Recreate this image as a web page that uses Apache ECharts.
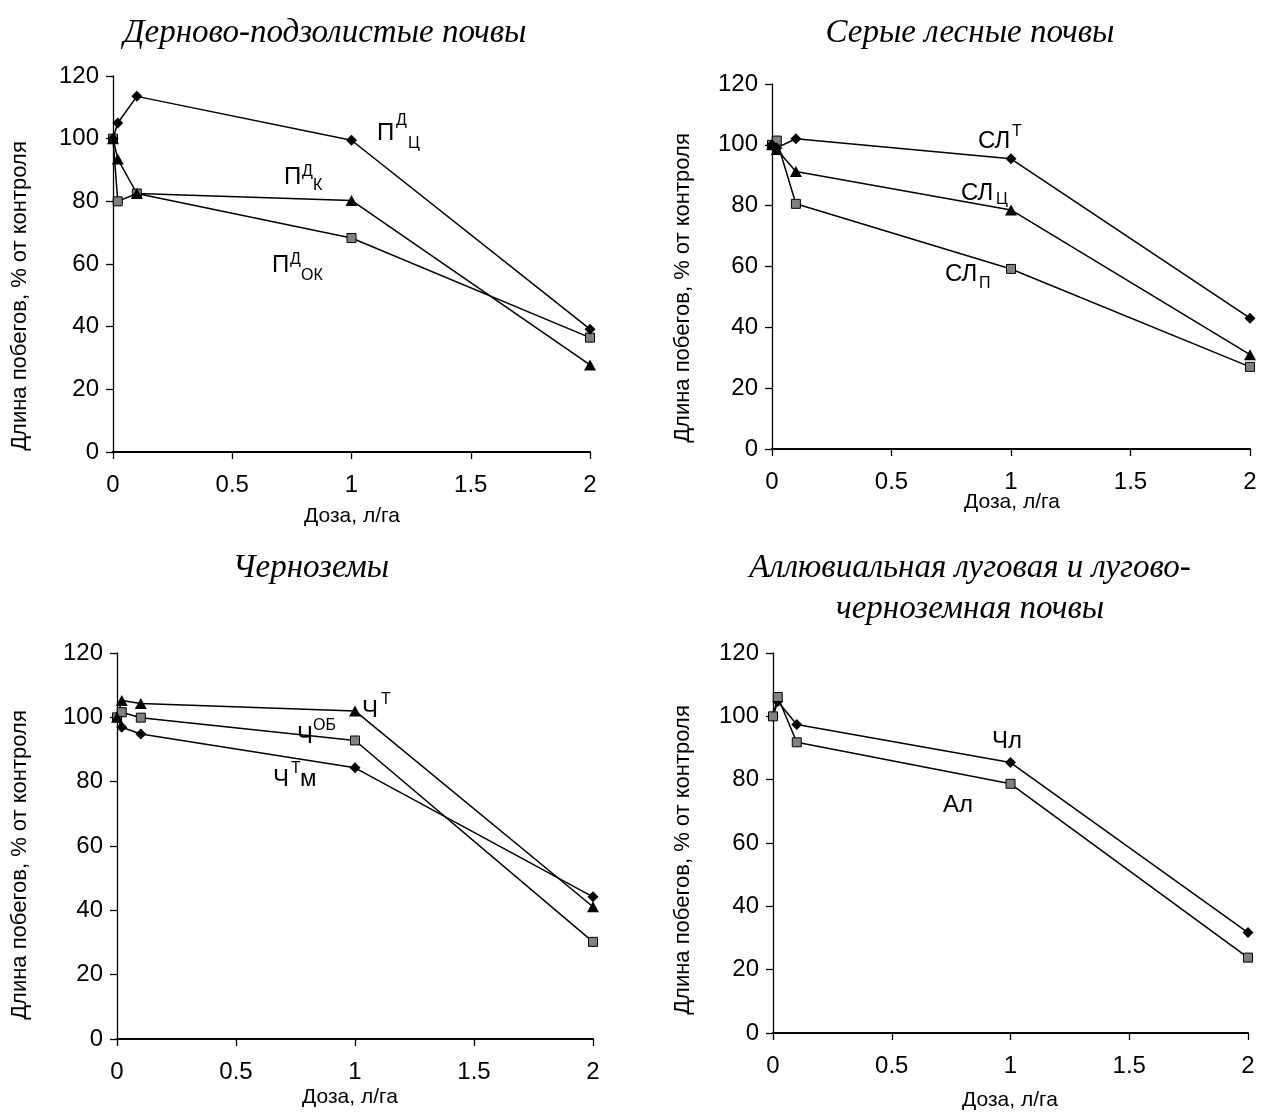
<!DOCTYPE html>
<html>
<head>
<meta charset="utf-8">
<script src="https://cdn.jsdelivr.net/npm/echarts@6/dist/echarts.min.js"></script>
<style>
  html, body { margin: 0; padding: 0; background: #fff; }
  #chart { width: 1263px; height: 1116px; }
</style>
</head>
<body>
<div id="chart"></div>
<script>
// доза препарата, л/га
const doses = [0, 0.02, 0.1, 1, 2];

// Дерново-подзолистые почвы
const pdC = [100, 105, 113.5, 99.5, 39.2];
const pdK = [100, 93.5, 82.5, 80.3, 27.8];
const pdOK = [100, 80, 82.5, 68.3, 36.5];

// Серые лесные почвы
const slT = [100, 99, 102, 95.4, 43];
const slC = [100, 98.5, 91.2, 78.6, 31];
const slP = [100, 101.4, 80.6, 59.2, 27];

// Черноземы
const chT = [100, 105.2, 104.3, 102, 41.1];
const chOB = [100, 101.6, 99.9, 92.8, 30.2];
const chTM = [100, 96.9, 94.8, 84.3, 44.2];

// Аллювиальная луговая и лугово-черноземная
const chL = [100, 104.7, 97.4, 85.4, 31.7];
const al = [100, 106.1, 91.8, 78.7, 23.8];

const titles = ['Дерново-подзолистые почвы', 'Серые лесные почвы', 'Черноземы', 'Аллювиальная луговая и лугово-\nчерноземная почвы'];
const yName = 'Длина побегов, % от контроля';
const xName = 'Доза, л/га';

const myChart = echarts.init(document.getElementById('chart'));

const grids = [
  { left: 113, top: 76, width: 477, height: 376 },
  { left: 772, top: 84, width: 478, height: 365 },
  { left: 117, top: 653, width: 476, height: 386 },
  { left: 773, top: 653, width: 475, height: 380 }
];

const sans = 'Liberation Sans, Arial, sans-serif';

const xAxes = grids.map((g, i) => ({
  type: 'value', gridIndex: i, min: 0, max: 2, interval: 0.5,
  axisLine: { onZero: false, lineStyle: { color: '#000', width: 2 } },
  axisTick: { inside: false, length: 7, lineStyle: { color: '#000', width: 1.3 } },
  axisLabel: { color: '#000', fontSize: 24, fontFamily: sans, margin: 21 },
  splitLine: { show: false }
}));

const yAxes = grids.map((g, i) => ({
  type: 'value', gridIndex: i, min: 0, max: 120, interval: 20,
  axisLine: { show: true, lineStyle: { color: '#000', width: 1.3 } },
  axisTick: { show: true, inside: false, length: 7, lineStyle: { color: '#000', width: 1.3 } },
  axisLabel: { color: '#000', fontSize: 24, fontFamily: sans, margin: 14 },
  splitLine: { show: false }
}));

const mk = (vals, idx, kind) => {
  let sym = {};
  if (kind === 'diamond') sym = { symbol: 'diamond', symbolSize: [11, 11], itemStyle: { color: '#000' } };
  if (kind === 'triangle') sym = { symbol: 'triangle', symbolSize: [12, 11], itemStyle: { color: '#000' } };
  if (kind === 'square') sym = { symbol: 'rect', symbolSize: 9, itemStyle: { color: '#808080', borderColor: '#000', borderWidth: 1 } };
  return Object.assign({
    type: 'line', xAxisIndex: idx, yAxisIndex: idx,
    data: doses.map((d, j) => [d, vals[j]]),
    showAllSymbol: true,
    lineStyle: { color: '#000', width: 1.5 },
    emphasis: { disabled: true },
    animation: false
  }, sym);
};

// подписи рядов: основная буква + верхний/нижний индекс
const txt = (x, y, text, size) => ({
  type: 'text', x: x, y: y,
  style: { text: text, fontSize: size, fontFamily: sans, fill: '#000', textAlign: 'left', textVerticalAlign: 'middle' }
});
const big = 24, small = 16;

const titleStyle = { fontSize: 33, fontFamily: 'Liberation Serif, Times New Roman, serif', fontStyle: 'italic', fill: '#000', textAlign: 'center', textVerticalAlign: 'middle' };
const yNameStyle = { text: yName, fontSize: 22, fontFamily: sans, fill: '#000', textAlign: 'center', textVerticalAlign: 'middle' };
const xNameStyle = { text: xName, fontSize: 21, fontFamily: sans, fill: '#000', textAlign: 'center', textVerticalAlign: 'middle' };

const graphics = [
  { type: 'text', x: 325, y: 33, style: Object.assign({ text: titles[0] }, titleStyle) },
  { type: 'text', x: 970, y: 33, style: Object.assign({ text: titles[1] }, titleStyle) },
  { type: 'text', x: 311, y: 568, style: Object.assign({ text: titles[2] }, titleStyle) },
  { type: 'text', x: 970, y: 589, style: Object.assign({ text: titles[3], lineHeight: 41 }, titleStyle) },

  // названия осей Y
  { type: 'text', x: 20, y: 296, rotation: Math.PI / 2, style: yNameStyle },
  { type: 'text', x: 683, y: 288, rotation: Math.PI / 2, style: yNameStyle },
  { type: 'text', x: 20, y: 865, rotation: Math.PI / 2, style: yNameStyle },
  { type: 'text', x: 683, y: 860, rotation: Math.PI / 2, style: yNameStyle },

  // названия осей X
  { type: 'text', x: 352, y: 516, style: xNameStyle },
  { type: 'text', x: 1012, y: 502, style: xNameStyle },
  { type: 'text', x: 350, y: 1097, style: xNameStyle },
  { type: 'text', x: 1010, y: 1100, style: xNameStyle },

  // панель 1
  txt(377, 133, 'П', big), txt(396, 121, 'Д', small), txt(408, 144, 'Ц', small),
  txt(284, 177, 'П', big), txt(302, 172, 'Д', small), txt(313, 186, 'К', small),
  txt(272, 265, 'П', big), txt(290, 260, 'Д', small), txt(301, 276, 'ОК', small),
  // панель 2
  txt(978, 141, 'СЛ', big), txt(1012, 132, 'Т', small),
  txt(961, 193, 'СЛ', big), txt(996, 200, 'Ц', small),
  txt(945, 274, 'СЛ', big), txt(979, 284, 'П', small),
  // панель 3
  txt(362, 710, 'Ч', big), txt(381, 700, 'Т', small),
  txt(297, 736, 'Ч', big), txt(313, 726, 'ОБ', small),
  txt(273, 779, 'Ч', big), txt(291, 769, 'Т', small), txt(300, 779, 'м', big),
  // панель 4
  txt(992, 741, 'Чл', big),
  txt(943, 805, 'Ал', big)
];

const option = {
  backgroundColor: '#fff',
  animation: false,
  grid: grids,
  xAxis: xAxes,
  yAxis: yAxes,
  series: [
    mk(pdOK, 0, 'square'), mk(pdK, 0, 'triangle'), mk(pdC, 0, 'diamond'),
    mk(slP, 1, 'square'), mk(slC, 1, 'triangle'), mk(slT, 1, 'diamond'),
    mk(chTM, 2, 'diamond'), mk(chOB, 2, 'square'), mk(chT, 2, 'triangle'),
    mk(chL, 3, 'diamond'), mk(al, 3, 'square')
  ],
  graphic: graphics
};
option && myChart.setOption(option);
</script>
</body>
</html>
